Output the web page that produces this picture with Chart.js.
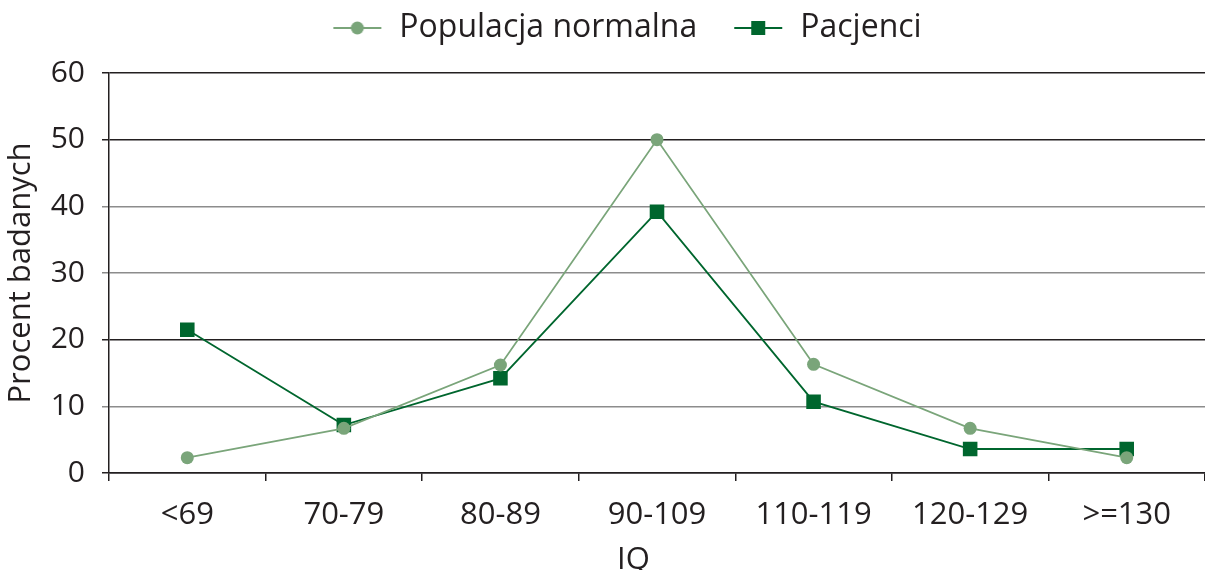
<!DOCTYPE html>
<html>
<head>
<meta charset="utf-8">
<script src="https://cdn.jsdelivr.net/npm/chart.js@4"></script>
<style>
  html, body { margin: 0; padding: 0; background: #ffffff; }
  #wrap { width: 1205px; height: 570px; }
</style>
</head>
<body>
<div id="wrap"><canvas id="c" width="1205" height="570"></canvas></div>
<script>
// IQ groups and share of subjects (%) in each group
const categories = ['<69', '70-79', '80-89', '90-109', '110-119', '120-129', '>=130'];
const populacjaNormalna = [2.3, 6.7, 16.2, 50, 16.3, 6.7, 2.3];
const pacjenci = [21.5, 7.2, 14.2, 39.2, 10.7, 3.6, 3.6];
const yTicks = [0, 10, 20, 30, 40, 50, 60];

const LIGHT = '#7aa57a';
const DARK = '#00662e';
const TEXT = '#231f20';
const FONT = 'Open Sans';
const FS = 31;

// Legend swatch: short line with the series marker in its middle
const SW = 84;
function swatch(color, shape) {
  const c = document.createElement('canvas');
  c.width = SW; c.height = 20;
  const g = c.getContext('2d');
  const x0 = SW - 50, x1 = SW - 2, cx = (x0 + x1) / 2, cy = 10;
  g.strokeStyle = color; g.lineWidth = 2;
  g.beginPath(); g.moveTo(x0, cy); g.lineTo(x1, cy); g.stroke();
  g.fillStyle = color;
  if (shape === 'circle') {
    g.beginPath(); g.arc(cx, cy, 6.5, 0, Math.PI * 2); g.fill();
  } else {
    g.fillRect(cx - 7, cy - 7, 14, 14);
  }
  return c;
}
const legendIcons = [swatch(LIGHT, 'circle'), swatch(DARK, 'rect')];

const darkLines = [0, 20, 50, 60];

// Fixed legend band height, and placement of the legend row inside it
const legendBand = {
  id: 'legendBand',
  beforeLayout(chart) {
    const lg = chart.legend;
    if (lg && !lg._fixed) {
      const f = lg.fit.bind(lg);
      lg.fit = function () { f(); this.height = 73; };
      lg._fixed = true;
    }
  },
  afterLayout(chart) {
    const lg = chart.legend;
    if (lg) { lg.top += 9; lg.left += 8; lg.right += 8; }
  }
};

// Category axis title, set slightly left of the plot centre
const xTitle = {
  id: 'xTitle',
  afterDraw(chart) {
    const { ctx, chartArea } = chart;
    ctx.save();
    ctx.fillStyle = TEXT;
    ctx.font = FS + 'px "' + FONT + '"';
    ctx.textAlign = 'center';
    ctx.textBaseline = 'alphabetic';
    ctx.fillText('IQ', (chartArea.left + chartArea.right) / 2 - 23.5, chartArea.bottom + 96);
    ctx.restore();
  }
};

new Chart(document.getElementById('c'), {
  type: 'line',
  data: {
    labels: categories,
    datasets: [
      {
        label: 'Populacja normalna',
        data: populacjaNormalna,
        borderColor: LIGHT,
        backgroundColor: LIGHT,
        borderWidth: 1.7,
        pointStyle: 'circle',
        pointRadius: 6.5,
        pointHoverRadius: 6.5,
        pointBorderWidth: 0,
        tension: 0
      },
      {
        label: 'Pacjenci',
        data: pacjenci,
        borderColor: DARK,
        backgroundColor: DARK,
        borderWidth: 1.8,
        pointStyle: 'rect',
        pointRadius: 10.3,
        pointHoverRadius: 10.3,
        pointBorderWidth: 0,
        tension: 0
      }
    ]
  },
  options: {
    responsive: false,
    animation: false,
    devicePixelRatio: 1,
    layout: { autoPadding: false, padding: { left: 0, right: 0, top: 0, bottom: 0 } },
    plugins: {
      tooltip: { enabled: false },
      legend: {
        display: true,
        position: 'top',
        labels: {
          usePointStyle: true,
          pointStyleWidth: SW,
          padding: 3,
          color: TEXT,
          font: { family: FONT, size: 32 },
          generateLabels(chart) {
            return chart.data.datasets.map((ds, i) => ({
              text: ds.label,
              pointStyle: legendIcons[i],
              fillStyle: ds.borderColor,
              strokeStyle: ds.borderColor,
              lineWidth: 0,
              fontColor: TEXT,
              hidden: false,
              datasetIndex: i
            }));
          }
        }
      }
    },
    scales: {
      x: {
        type: 'category',
        offset: true,
        grid: {
          offset: true,
          drawOnChartArea: false,
          drawTicks: true,
          tickLength: 8,
          color: TEXT,
          lineWidth: 1.5
        },
        border: { display: true, color: TEXT, width: 1.5 },
        ticks: {
          color: TEXT,
          font: { family: FONT, size: FS },
          padding: 16,
          maxRotation: 0,
          autoSkip: false
        },
        title: { display: false },
        afterFit(s) { s.height = 97; s.paddingLeft = 0; s.paddingRight = 0; }
      },
      y: {
        min: 0,
        max: 60,
        afterBuildTicks(s) { s.ticks = yTicks.map(v => ({ value: v })); },
        grid: {
          drawTicks: true,
          tickLength: 7,
          lineWidth: 1.5,
          color: ctx => darkLines.includes(ctx.tick && ctx.tick.value) ? TEXT : '#8c8c8c'
        },
        border: { display: true, color: TEXT, width: 1.5 },
        ticks: {
          color: TEXT,
          font: { family: FONT, size: 30 },
          padding: 17
        },
        title: {
          display: true,
          text: 'Procent badanych',
          color: TEXT,
          font: { family: FONT, size: FS },
          padding: { top: 3, bottom: 0 }
        },
        afterFit(s) { s.width = 109; }
      }
    }
  },
  plugins: [legendBand, xTitle]
});
</script>
</body>
</html>
